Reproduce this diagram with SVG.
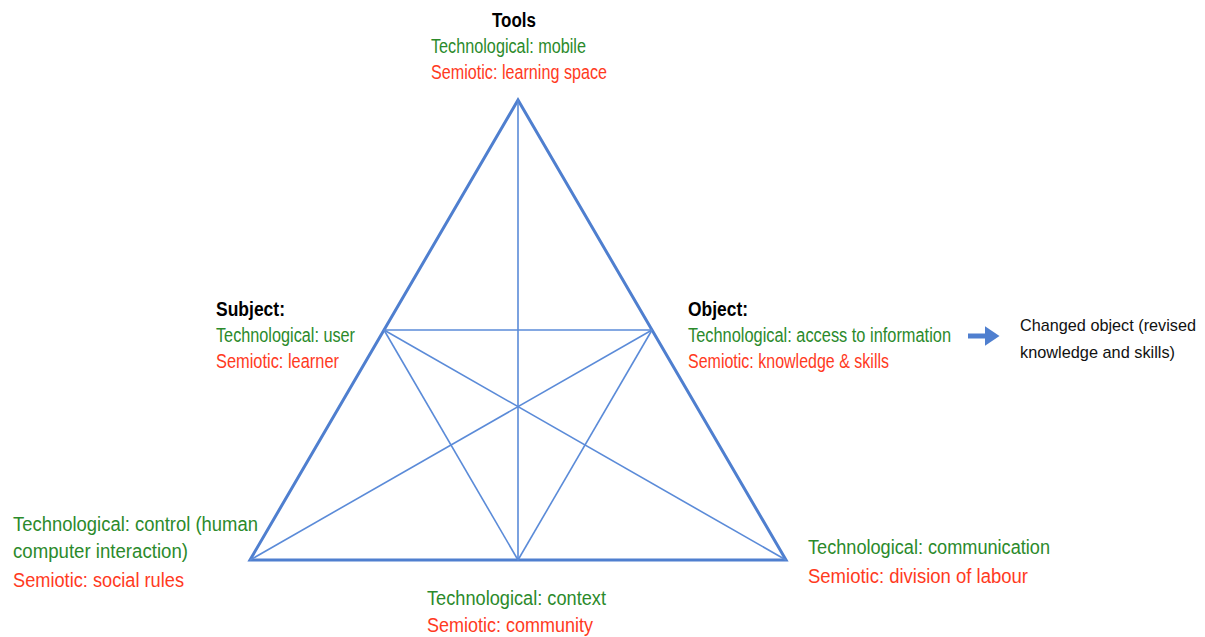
<svg xmlns="http://www.w3.org/2000/svg" width="1205" height="637" viewBox="0 0 1205 637">
<style>
text{font-family:"Liberation Sans",Arial,sans-serif;font-size:19.5px}
.h{font-weight:bold;fill:#000}
.g{fill:#2b8a2b}
.r{fill:#ff3a1e}
.k{fill:#111;font-size:17px}
.outer{fill:none;stroke:#4f7fcf;stroke-width:3;stroke-linejoin:miter}
.inner{stroke:#5b8bd8;stroke-width:1.6;fill:none}
</style>
<defs>
<marker id="ah" markerWidth="4" markerHeight="4" refX="1.5" refY="2" orient="auto" markerUnits="strokeWidth">
<path d="M0,0 L3,2 L0,4 Z" fill="#4f7fcf"/>
</marker>
</defs>
<rect width="1205" height="637" fill="#fff"/>
<g id="connectors">
<polygon class="outer" points="518,100 250,560 786,560"/>
<line class="inner" x1="518" y1="100" x2="518" y2="560"/>
<line class="inner" x1="384" y1="330" x2="652" y2="330"/>
<line class="inner" x1="384" y1="330" x2="518" y2="560"/>
<line class="inner" x1="384" y1="330" x2="786" y2="560"/>
<line class="inner" x1="652" y1="330" x2="250" y2="560"/>
<line class="inner" x1="652" y1="330" x2="518" y2="560"/>
<line x1="968" y1="336" x2="992" y2="336" stroke="#4f7fcf" stroke-width="5" marker-end="url(#ah)"/>
</g>
<g id="tools">
<text class="h" x="514" y="27" text-anchor="middle" textLength="44" lengthAdjust="spacingAndGlyphs">Tools</text>
<text class="g" x="431" y="53" textLength="155" lengthAdjust="spacingAndGlyphs">Technological: mobile</text>
<text class="r" x="431" y="79" textLength="176" lengthAdjust="spacingAndGlyphs">Semiotic: learning space</text>
</g>
<g id="subject">
<text class="h" x="216" y="316" textLength="69" lengthAdjust="spacingAndGlyphs">Subject:</text>
<text class="g" x="216" y="342" textLength="139" lengthAdjust="spacingAndGlyphs">Technological: user</text>
<text class="r" x="216" y="368" textLength="123" lengthAdjust="spacingAndGlyphs">Semiotic: learner</text>
</g>
<g id="object">
<text class="h" x="688" y="316" textLength="60" lengthAdjust="spacingAndGlyphs">Object:</text>
<text class="g" x="688" y="342" textLength="263" lengthAdjust="spacingAndGlyphs">Technological: access to information</text>
<text class="r" x="688" y="368" textLength="201" lengthAdjust="spacingAndGlyphs">Semiotic: knowledge &amp; skills</text>
</g>
<g id="outcome">
<text class="k" x="1020" y="331" textLength="176" lengthAdjust="spacingAndGlyphs">Changed object (revised</text>
<text class="k" x="1020" y="358" textLength="155" lengthAdjust="spacingAndGlyphs">knowledge and skills)</text>
</g>
<g id="rules">
<text class="g" x="13" y="531" textLength="245" lengthAdjust="spacingAndGlyphs">Technological: control (human</text>
<text class="g" x="13" y="558" textLength="175" lengthAdjust="spacingAndGlyphs">computer interaction)</text>
<text class="r" x="13" y="587" textLength="171" lengthAdjust="spacingAndGlyphs">Semiotic: social rules</text>
</g>
<g id="community">
<text class="g" x="427" y="605" textLength="179" lengthAdjust="spacingAndGlyphs">Technological: context</text>
<text class="r" x="427" y="632" textLength="166" lengthAdjust="spacingAndGlyphs">Semiotic: community</text>
</g>
<g id="division">
<text class="g" x="808" y="554" textLength="242" lengthAdjust="spacingAndGlyphs">Technological: communication</text>
<text class="r" x="808" y="583" textLength="220" lengthAdjust="spacingAndGlyphs">Semiotic: division of labour</text>
</g>
</svg>
